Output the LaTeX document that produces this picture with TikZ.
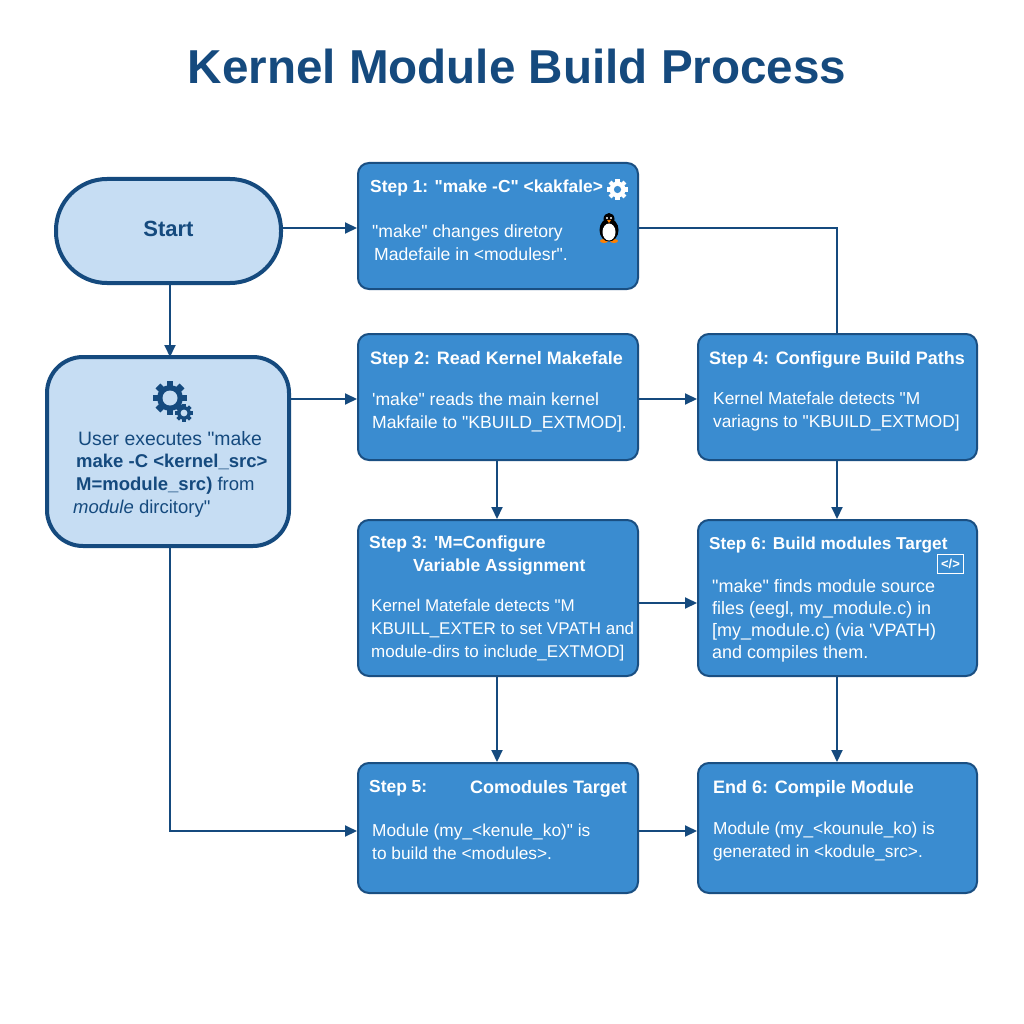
\documentclass[tikz,border=0pt]{standalone}
\usepackage{fontspec}
\setmainfont{Liberation Sans}[Ligatures=TeXOff]
\usetikzlibrary{arrows.meta}
\definecolor{navy}{HTML}{154A7E}
\definecolor{stepblue}{HTML}{3A8CD0}
\definecolor{paleblue}{HTML}{C6DDF3}
\definecolor{edgeblue}{HTML}{1A4F82}
\tikzset{
  stepbox/.style={draw=edgeblue, fill=stepblue, line width=2pt, rounded corners=11pt, inner sep=0pt},
  userbox/.style={draw=navy, fill=paleblue, line width=4pt, inner sep=0pt},
  head/.style={text=white, anchor=west, inner sep=0pt, align=left, font=\fontsize{18}{22.5}\selectfont\bfseries},
  body/.style={text=white, anchor=west, inner sep=0pt, align=left, font=\fontsize{17.3}{23}\selectfont},
  link/.style={draw=navy, line width=2pt},
  arrow/.style={link, -{Stealth[length=12pt,width=11pt,inset=0pt]}},
  pics/gear/.style 2 args={code={
    \fill[#2] (0,0) circle (0.76*#1);
    \foreach \a in {0,45,...,315}
      \fill[#2, rotate=\a] (0.6*#1,-0.2*#1) rectangle (#1,0.2*#1);
  }}
}
\begin{document}
\begin{tikzpicture}[x=1pt,y=-1pt]
  \useasboundingbox (0,0) rectangle (1024,1024);
  \fill[white] (0,0) rectangle (1024,1024);
  \node (title) at (517,66) [text=navy, font=\fontsize{47.6}{50}\selectfont\bfseries] {Kernel Module Build Process};

  % left column
  \node (start) at (168.5,231) [userbox, minimum width=225pt, minimum height=104pt, rounded corners=51pt,
    text=navy, text depth=4pt, font=\fontsize{22}{24}\selectfont\bfseries] {Start};
  \node (user) at (168,451.5) [userbox, minimum width=242pt, minimum height=189pt, rounded corners=36pt] {};
  \node (usertext) at (73,474) [anchor=west, inner sep=0pt, text=navy, align=left, font=\fontsize{18.5}{22.7}\selectfont]
    {\hspace{5pt}{\fontsize{19.4}{22.7}\selectfont User executes "make}\\
     \hspace{3pt}\textbf{make -C <kernel\_src>}\\
     \hspace{3pt}\textbf{M=module\_src)} from\\
     \textit{module} dircitory"};

  % step boxes
  \node (step1) at (498,226) [stepbox, minimum width=280pt, minimum height=126pt] {};
  \node (step2) at (498,397) [stepbox, minimum width=280pt, minimum height=126pt] {};
  \node (step4) at (837.5,397) [stepbox, minimum width=279pt, minimum height=126pt] {};
  \node (step3) at (498,598) [stepbox, minimum width=280pt, minimum height=156pt] {};
  \node (step6) at (837.5,598) [stepbox, minimum width=279pt, minimum height=156pt] {};
  \node (step5) at (498,828) [stepbox, minimum width=280pt, minimum height=130pt] {};
  \node (end6) at (837.5,828) [stepbox, minimum width=279pt, minimum height=130pt] {};

  % step texts
  \node (step1head) at (370,188.5) [head, font=\fontsize{17.4}{22.5}\selectfont\bfseries] {Step 1: "make -C" <kakfale>};
  \node (step1body) at (372,242.5) [body, font=\fontsize{17.6}{23}\selectfont] {"make" changes diretory\\\hspace{2pt}Madefaile in <modulesr".};
  \node (step2head) at (370,359.5) [head] {Step 2: Read Kernel Makefale};
  \node (step2body) at (372,412.5) [body, font=\fontsize{17.6}{23}\selectfont] {'make" reads the main kernel\\Makfaile to "KBUILD\_EXTMOD].};
  \node (step4head) at (709,359.5) [head] {Step 4: Configure Build Paths};
  \node (step4body) at (713,411.5) [body] {Kernel Matefale detects "M\\variagns to "KBUILD\_EXTMOD]};
  \node (step3head) at (369,555.5) [head, font=\fontsize{17.5}{22.5}\selectfont\bfseries] {Step 3: 'M=Configure\\\hspace{44pt}Variable Assignment};
  \node (step3body) at (371,630.5) [body, font=\fontsize{17}{23}\selectfont] {Kernel Matefale detects "M\\KBUILL\_EXTER to set VPATH and\\module-dirs to include\_EXTMOD]};
  \node (step6head) at (709,545.5) [head, font=\fontsize{17.2}{22.5}\selectfont\bfseries] {Step 6: Build modules Target};
  \node (step6body) at (712,620.5) [body, font=\fontsize{18}{22}\selectfont] {"make" finds module source\\files (eegl, my\_module.c) in\\{[}my\_module.c) (via 'VPATH)\\and compiles them.};
  \node (step5head) at (369,788.5) [head, font=\fontsize{17.4}{22.5}\selectfont\bfseries] {Step 5:};
  \node (step5name) at (470,788.5) [head] {Comodules Target};
  \node (step5body) at (372,842) [body] {Module (my\_<kenule\_ko)" is\\to build the <modules>.};
  \node (end6head) at (713,788.5) [head] {End 6: Compile Module};
  \node (end6body) at (713,842) [body] {Module (my\_<kounule\_ko) is\\generated in <kodule\_src>.};

  % connectors
  \coordinate (corner1) at (837,228);
  \coordinate (corner2) at (170,831);
  \draw[arrow] (start.east |- 0,228) -- (step1.west |- 0,228);
  \draw[arrow] (170,283) -- (170,357);
  \draw[arrow] (user.east |- 0,399) -- (step2.west |- 0,399);
  \draw[arrow] (step2.east |- 0,399) -- (step4.west |- 0,399);
  \draw[link] (step1.east |- corner1) -- (corner1) -- (step4.north -| corner1);
  \draw[arrow] (step2.south -| 497,0) -- (step3.north -| 497,0);
  \draw[arrow] (step4.south -| 837,0) -- (step6.north -| 837,0);
  \draw[arrow] (step3.east |- 0,603) -- (step6.west |- 0,603);
  \draw[arrow] (step3.south -| 497,0) -- (step5.north -| 497,0);
  \draw[arrow] (step6.south -| 837,0) -- (end6.north -| 837,0);
  \draw[arrow] (user.south -| corner2) -- (corner2) -- (step5.west |- corner2);
  \draw[arrow] (step5.east |- 0,831) -- (end6.west |- 0,831);

  % icons
  \pic at (617.5,189.5) {gear={10.5pt}{white}};
  \fill[stepblue] (617.5,189.5) circle (3.6pt);
  \pic at (170,398) {gear={17pt}{navy}};
  \fill[paleblue] (170,398) circle (7.5pt);
  \pic at (184,413) {gear={9pt}{navy}};
  \fill[paleblue] (184,413) circle (3.4pt);
  \node (codeicon) at (950.5,564) [draw=white, line width=1.5pt, minimum width=26pt, minimum height=19pt, inner sep=0pt,
    text=white, font=\fontsize{13}{14}\selectfont\bfseries] {</>};
  % penguin
  \fill[orange] (604,241) ellipse (4pt and 2pt) (614,241) ellipse (4pt and 2pt);
  \fill[black] (609,230) ellipse (9.5pt and 11.5pt);
  \fill[black] (609,219) ellipse (5.5pt and 6pt);
  \fill[white] (609,232) ellipse (6.5pt and 8.5pt);
  \fill[white] (607,218) circle (1.1pt) (611,218) circle (1.1pt);
  \fill[orange] (607,220) -- (611,220) -- (609,223) -- cycle;
\end{tikzpicture}
\end{document}
